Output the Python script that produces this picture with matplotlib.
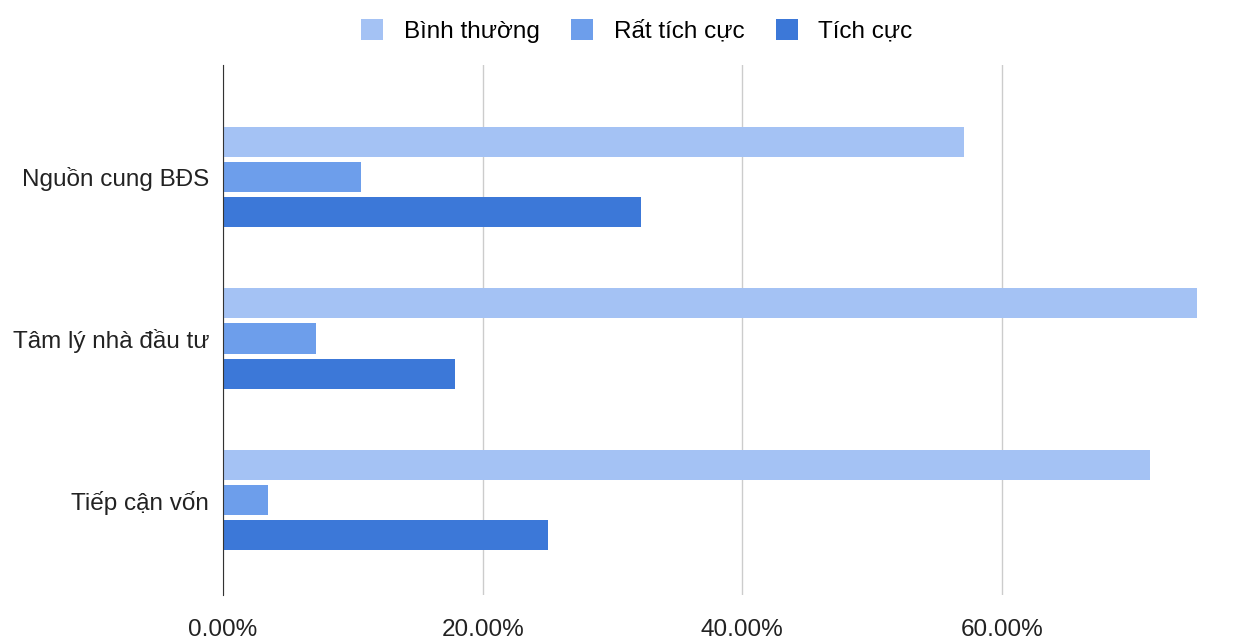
import matplotlib
matplotlib.use("Agg")
import matplotlib.pyplot as plt
import numpy as np
from matplotlib.ticker import FuncFormatter

plt.rcParams['font.family'] = ['Liberation Sans', 'DejaVu Sans']

categories = ['Nguồn cung BĐS', 'Tâm lý nhà đầu tư', 'Tiếp cận vốn']
series = ['Bình thường', 'Rất tích cực', 'Tích cực']
binh_thuong = [57.1, 75.0, 71.4]
rat_tich_cuc = [10.6, 7.2, 3.5]
tich_cuc = [32.2, 17.9, 25.0]
colors = ['#a4c2f4', '#6d9eeb', '#3c78d8']

fig = plt.figure(figsize=(12.56, 6.43), dpi=100)
ax = fig.add_axes([223/1256, 1 - 595/643, (1215-223)/1256, (595-65)/643])

y = np.arange(len(categories))
h = 0.186
step = 0.217
for i, (vals, name) in enumerate(zip([binh_thuong, rat_tich_cuc, tich_cuc], series)):
    ax.barh(y + (i - 1) * step, vals, height=h, color=colors[i], label=name, zorder=3)

ax.set_ylim(2.588, -0.693)
ax.set_xlim(0, 76.4)
ax.set_yticks(y)
ax.set_yticklabels(categories, fontsize=17.5, color='#222222')
ax.set_xticks([0, 20, 40, 60])
ax.xaxis.set_major_formatter(FuncFormatter(lambda v, p: '%.2f%%' % v))
ax.tick_params(axis='x', labelsize=17.5, colors='#222222', length=0, pad=17)
ax.tick_params(axis='y', length=0, pad=10)
ax.grid(axis='x', color='#cccccc', linewidth=1, zorder=0)
for s in ['top', 'right', 'bottom']:
    ax.spines[s].set_visible(False)
ax.spines['left'].set_color('#333333')
ax.spines['left'].set_zorder(4)

fig.legend(loc='upper center', bbox_to_anchor=(0.507, 1.005), ncol=3, frameon=False,
           fontsize=17.5, handlelength=0.9, handleheight=1.0, columnspacing=1.3,
           handletextpad=0.85)

fig.savefig('out.png', dpi=100)
